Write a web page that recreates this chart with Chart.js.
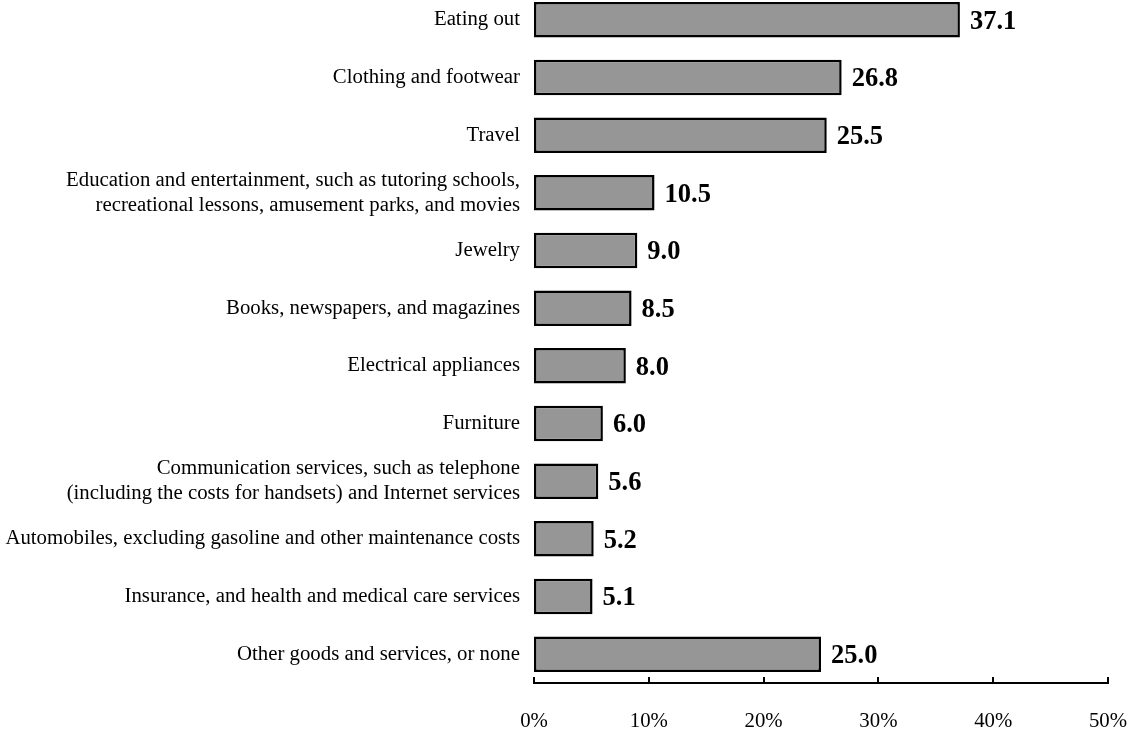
<!DOCTYPE html>
<html>
<head>
<meta charset="utf-8">
<title>Spending categories</title>
<script src="https://cdn.jsdelivr.net/npm/chart.js"></script>
<style>
html, body { margin: 0; padding: 0; background: #fff; overflow: hidden; }
.wrap { position: absolute; left: 0; top: -9px; width: 1130px; height: 740px; }
</style>
</head>
<body>
<div class="wrap"><canvas id="chart"></canvas></div>
<script>
const categories = [
	'Eating out',
	'Clothing and footwear',
	'Travel',
	['Education and entertainment, such as tutoring schools,', 'recreational lessons, amusement parks, and movies'],
	'Jewelry',
	'Books, newspapers, and magazines',
	'Electrical appliances',
	'Furniture',
	['Communication services, such as telephone', '(including the costs for handsets) and Internet services'],
	'Automobiles, excluding gasoline and other maintenance costs',
	'Insurance, and health and medical care services',
	'Other goods and services, or none'
];
const values = [37.1, 26.8, 25.5, 10.5, 9.0, 8.5, 8.0, 6.0, 5.6, 5.2, 5.1, 25.0];
const xTicks = [0, 10, 20, 30, 40, 50];

Chart.defaults.font.family = '"Liberation Serif", "Times New Roman", serif';
Chart.defaults.font.size = 20.8;
Chart.defaults.color = '#000';

// values printed right of each bar
const valueLabels = {
	id: 'valueLabels',
	afterDatasetsDraw(chart) {
		const ctx = chart.ctx;
		const meta = chart.getDatasetMeta(0);
		ctx.save();
		ctx.font = 'bold 26.5px "Liberation Serif", "Times New Roman", serif';
		ctx.fillStyle = '#000';
		ctx.textBaseline = 'middle';
		ctx.textAlign = 'left';
		meta.data.forEach((bar, i) => {
			ctx.fillText(values[i].toFixed(1), bar.x + 10, bar.y + 2);
		});
		ctx.restore();
	}
};

// small tick marks standing up from the x axis line
const upTicks = {
	id: 'upTicks',
	afterDraw(chart) {
		const ctx = chart.ctx;
		const x = chart.scales.x;
		const y0 = chart.chartArea.bottom;
		ctx.save();
		ctx.strokeStyle = '#000';
		ctx.lineWidth = 2;
		xTicks.forEach(v => {
			const px = Math.round(x.getPixelForValue(v));
			ctx.beginPath();
			ctx.moveTo(px, y0 - 6);
			ctx.lineTo(px, y0);
			ctx.stroke();
		});
		ctx.restore();
	}
};

new Chart(document.getElementById('chart'), {
	type: 'bar',
	data: {
		labels: categories,
		datasets: [{
			data: values,
			backgroundColor: '#969696',
			borderColor: '#000',
			borderWidth: 2.5,
			borderSkipped: false,
			barPercentage: 0.615,
			categoryPercentage: 1
		}]
	},
	options: {
		indexAxis: 'y',
		responsive: true,
		maintainAspectRatio: false,
		animation: false,
		layout: { padding: { left: 0, right: 22, top: 0, bottom: 0 } },
		plugins: {
			legend: { display: false },
			tooltip: { enabled: false }
		},
		scales: {
			x: {
				min: 0,
				max: 50,
				afterFit(scale) {
					scale.height = 48;
					scale.paddingLeft = 0;
					scale.paddingRight = 0;
				},
				afterBuildTicks(scale) { scale.ticks = xTicks.map(v => ({ value: v })); },
				grid: { display: false, drawTicks: false },
				border: { display: true, color: '#000', width: 2 },
				ticks: {
					padding: 26,
					maxRotation: 0,
					callback: v => v + '%'
				}
			},
			y: {
				afterFit(scale) {
					scale.width = 534;
					scale.paddingTop = 0;
					scale.paddingBottom = 0;
				},
				grid: { display: false, drawTicks: false },
				border: { display: false },
				ticks: { padding: 14, autoSkip: false }
			}
		}
	},
	plugins: [valueLabels, upTicks]
});
</script>
</body>
</html>
